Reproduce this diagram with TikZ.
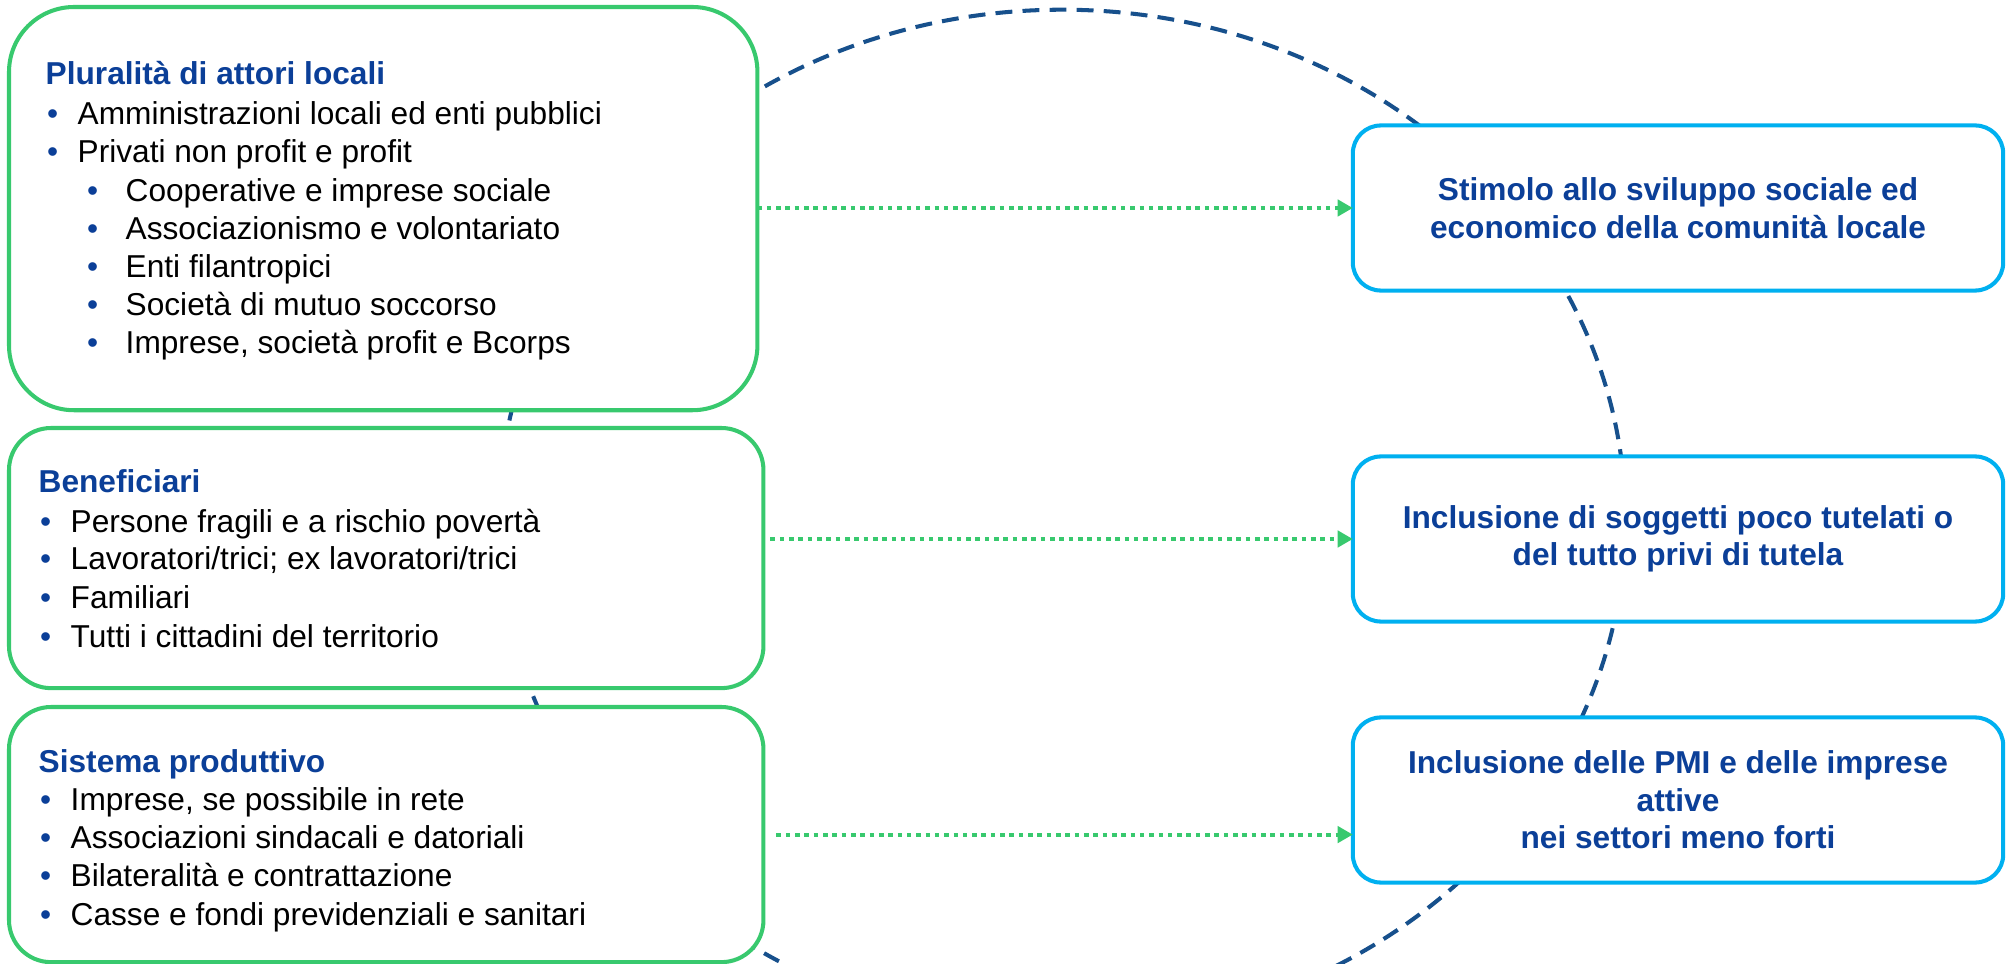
\documentclass[tikz,border=0pt]{standalone}
\usepackage{fontspec}
\setmainfont{Liberation Sans}
\usetikzlibrary{arrows.meta,positioning}
\definecolor{cG}{HTML}{38C96E}
\definecolor{cB}{HTML}{00B0F0}
\definecolor{cD}{HTML}{17508C}
\definecolor{cT}{HTML}{0B3F98}
\newcommand\basefont{\fontsize{9pt}{10.7pt}\selectfont}
\newcommand\bul[1]{\llap{\makebox[0pt][c]{\textcolor{cT}{•}}\hspace{#1}}}
\tikzset{
  actor/.style={draw=cG,line width=1.15pt,fill=white,inner sep=0pt,
                outer sep=0pt,anchor=north west},
  goal/.style={draw=cB,line width=1.15pt,fill=white,rounded corners=2.8mm,
               minimum width=65mm,minimum height=16.5mm,inner sep=0pt,
               outer sep=0pt,align=center,font=\basefont\bfseries,text=cT},
  head/.style={anchor=base west,inner sep=0pt,font=\basefont\bfseries,text=cT},
  item/.style={anchor=base west,inner sep=0pt,font=\basefont},
  flow/.style={cG,line width=1.1pt,dash pattern=on 1.3pt off 1.35pt,
               -{Triangle[length=4.3pt,width=4.6pt]}},
  ring/.style={cD,line width=1.15pt,dash pattern=on 4.8pt off 2.9pt},
}
\begin{document}
\begin{tikzpicture}[x=0.01cm,y=-0.01cm]
  \useasboundingbox (0,0) rectangle (2006,964);
  % dashed ring behind everything
  \draw[ring] (1062,520) ellipse [x radius=5.63cm,y radius=5.10cm];
  % left boxes
  \node[actor,minimum width=74.8mm,minimum height=40.3mm,rounded corners=6.5mm]
    (L1) at (9,7) {};
  \node[actor,minimum width=75.4mm,minimum height=26mm,rounded corners=4.2mm]
    (L2) at (9,428) {};
  \node[actor,minimum width=75.4mm,minimum height=25.5mm,rounded corners=4.2mm]
    (L3) at (9,707) {};
  % right boxes
  \node[goal] (R1) at (1678,208)
    {Stimolo allo sviluppo sociale ed\\economico della comunità locale};
  \node[goal] (R2) at (1678,539)
    {Inclusione di soggetti poco tutelati o\\del tutto privi di tutela};
  \node[goal] (R3) at (1678,800)
    {Inclusione delle PMI e delle imprese\\attive\\nei settori meno forti};
  % texts of the left boxes
  \node[head] (h1) at (45,85) {Pluralità di attori locali};
  \foreach \y/\t in {125/Amministrazioni locali ed enti pubblici,
                     163/Privati non profit e profit}
    \node[item] (a\y) at (77,\y) {\bul{2.5mm}\t};
  \foreach \y/\t in {202/Cooperative e imprese sociale,
                     240/Associazionismo e volontariato,
                     278/Enti filantropici,
                     316/Società di mutuo soccorso,
                     354/{Imprese, società profit e Bcorps}}
    \node[item] (b\y) at (125,\y) {\bul{3.3mm}\t};
  \node[head] (h2) at (38,492) {Beneficiari};
  \foreach \y/\t in {532/Persone fragili e a rischio povertà,
                     570/{Lavoratori/trici; ex lavoratori/trici},
                     608/Familiari,
                     647/Tutti i cittadini del territorio}
    \node[item] (c\y) at (70,\y) {\bul{2.5mm}\t};
  \node[head] (h3) at (38,772) {Sistema produttivo};
  \foreach \y/\t in {810/{Imprese, se possibile in rete},
                     848/Associazioni sindacali e datoriali,
                     886/Bilateralità e contrattazione,
                     925/Casse e fondi previdenziali e sanitari}
    \node[item] (d\y) at (70,\y) {\bul{2.5mm}\t};
  % dotted arrows
  \coordinate (s2) at ([xshift=0.7mm]L2.east);
  \coordinate (s3) at ([xshift=1.3mm]L3.east);
  \draw[flow] (L1.east |- R1.west) -- (R1.west);
  \draw[flow] (s2 |- R2.west) -- (R2.west);
  \draw[flow] (s3) -- (s3 -| R3.west);
\end{tikzpicture}
\end{document}
